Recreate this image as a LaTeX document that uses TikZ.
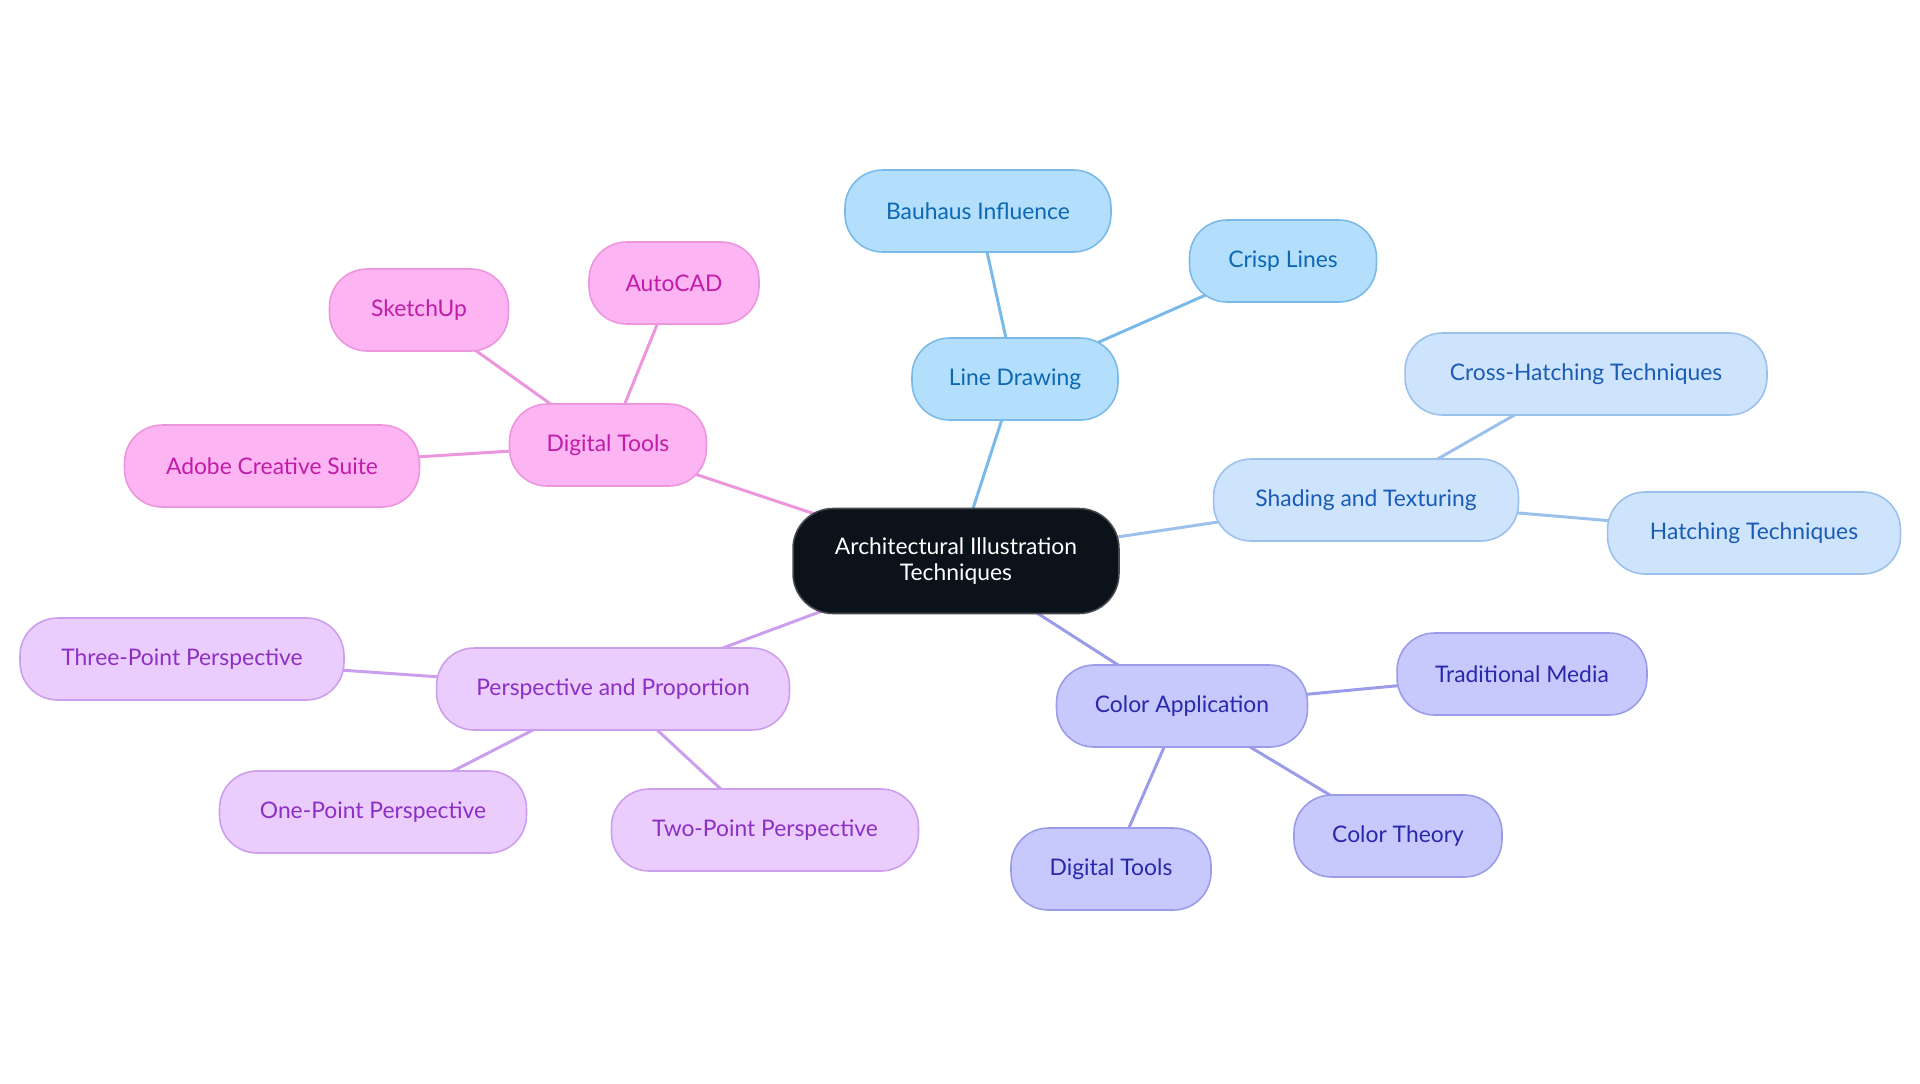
\documentclass[tikz,border=0pt]{standalone}
\usepackage{fontspec}
\setmainfont{Lato}
\usepackage{xcolor}
\usetikzlibrary{backgrounds}

\definecolor{HubFill}{RGB}{12,18,26}
\definecolor{HubLine}{RGB}{70,74,80}
\definecolor{LineFill}{RGB}{179,223,253}
\definecolor{LineEdge}{RGB}{122,186,232}
\definecolor{LineText}{RGB}{12,104,178}
\definecolor{ShadeFill}{RGB}{206,228,253}
\definecolor{ShadeEdge}{RGB}{156,192,236}
\definecolor{ShadeText}{RGB}{26,92,180}
\definecolor{ColFill}{RGB}{199,201,252}
\definecolor{ColEdge}{RGB}{154,156,234}
\definecolor{ColText}{RGB}{42,40,170}
\definecolor{ToolFill}{RGB}{253,180,242}
\definecolor{ToolEdge}{RGB}{236,150,222}
\definecolor{ToolText}{RGB}{192,28,168}
\definecolor{PerspFill}{RGB}{234,204,253}
\definecolor{PerspEdge}{RGB}{204,158,238}
\definecolor{PerspText}{RGB}{140,48,196}

\tikzset{
  hub/.style    = {draw=HubLine, fill=HubFill, text=white, rounded corners=0.8cm,
                   minimum width=6.52cm, minimum height=2.1cm, align=center,
                   line width=0.9pt},
  leaf/.style   = {rounded corners=0.75cm, minimum height=1.64cm, align=center,
                   line width=0.9pt},
  linebox/.style  = {leaf, fill=LineFill, draw=LineEdge, text=LineText},
  shadebox/.style = {leaf, fill=ShadeFill, draw=ShadeEdge, text=ShadeText},
  colbox/.style   = {leaf, fill=ColFill, draw=ColEdge, text=ColText},
  toolbox/.style  = {leaf, fill=ToolFill, draw=ToolEdge, text=ToolText},
  perspbox/.style = {leaf, fill=PerspFill, draw=PerspEdge, text=PerspText},
  link/.style     = {line width=1.7pt}
}

\begin{document}
\begin{tikzpicture}[x=0.02cm, y=-0.02cm, every node/.style={font=\fontsize{13}{15}\selectfont}]
\useasboundingbox (0,0) rectangle (1920,1083);

% centre
\node[hub] (root) at (956,561) {Architectural Illustration\\Techniques};

% line drawing
\node[linebox, minimum width=4.12cm] (line) at (1015,379) {Line Drawing};
\node[linebox, minimum width=5.32cm] (bauhaus) at (978,211) {Bauhaus Influence};
\node[linebox, minimum width=3.74cm] (crisp) at (1283,261) {Crisp Lines};

% shading
\node[shadebox, minimum width=6.1cm] (shade) at (1366,500) {Shading and Texturing};
\node[shadebox, minimum width=7.24cm] (cross) at (1586,374) {Cross-Hatching Techniques};
\node[shadebox, minimum width=5.86cm] (hatch) at (1754,533) {Hatching Techniques};

% colour
\node[colbox, minimum width=5.02cm] (colapp) at (1182,706) {Color Application};
\node[colbox, minimum width=5.0cm] (trad) at (1522,674) {Traditional Media};
\node[colbox, minimum width=4.16cm] (theory) at (1398,836) {Color Theory};
\node[colbox, minimum width=4.0cm] (coldig) at (1111,869) {Digital Tools};

% digital tools
\node[toolbox, minimum width=3.94cm] (tools) at (608,445) {Digital Tools};
\node[toolbox, minimum width=3.58cm] (sketch) at (419,310) {SketchUp};
\node[toolbox, minimum width=3.4cm] (cad) at (674,283) {AutoCAD};
\node[toolbox, minimum width=5.9cm] (adobe) at (272,466) {Adobe Creative Suite};

% perspective
\node[perspbox, minimum width=7.06cm] (persp) at (613,689) {Perspective and Proportion};
\node[perspbox, minimum width=6.48cm] (three) at (182,659) {Three-Point Perspective};
\node[perspbox, minimum width=6.14cm] (one) at (373,812) {One-Point Perspective};
\node[perspbox, minimum width=6.14cm] (two) at (765,830) {Two-Point Perspective};

% links, under the boxes
\begin{pgfonlayer}{background}
\draw[link, LineEdge] (root.center) -- (line.center);
\draw[link, LineEdge] (line.center) -- (bauhaus.center);
\draw[link, LineEdge] (line.center) -- (crisp.center);
\draw[link, ShadeEdge] (root.center) -- (shade.center);
\draw[link, ShadeEdge] (shade.center) -- (cross.center);
\draw[link, ShadeEdge] (shade.center) -- (hatch.center);
\draw[link, ColEdge] (root.center) -- (colapp.center);
\draw[link, ColEdge] (colapp.center) -- (trad.center);
\draw[link, ColEdge] (colapp.center) -- (theory.center);
\draw[link, ColEdge] (colapp.center) -- (coldig.center);
\draw[link, ToolEdge] (root.center) -- (tools.center);
\draw[link, ToolEdge] (tools.center) -- (sketch.center);
\draw[link, ToolEdge] (tools.center) -- (cad.center);
\draw[link, ToolEdge] (tools.center) -- (adobe.center);
\draw[link, PerspEdge] (root.center) -- (persp.center);
\draw[link, PerspEdge] (persp.center) -- (three.center);
\draw[link, PerspEdge] (persp.center) -- (one.center);
\draw[link, PerspEdge] (persp.center) -- (two.center);
\end{pgfonlayer}
\end{tikzpicture}
\end{document}
